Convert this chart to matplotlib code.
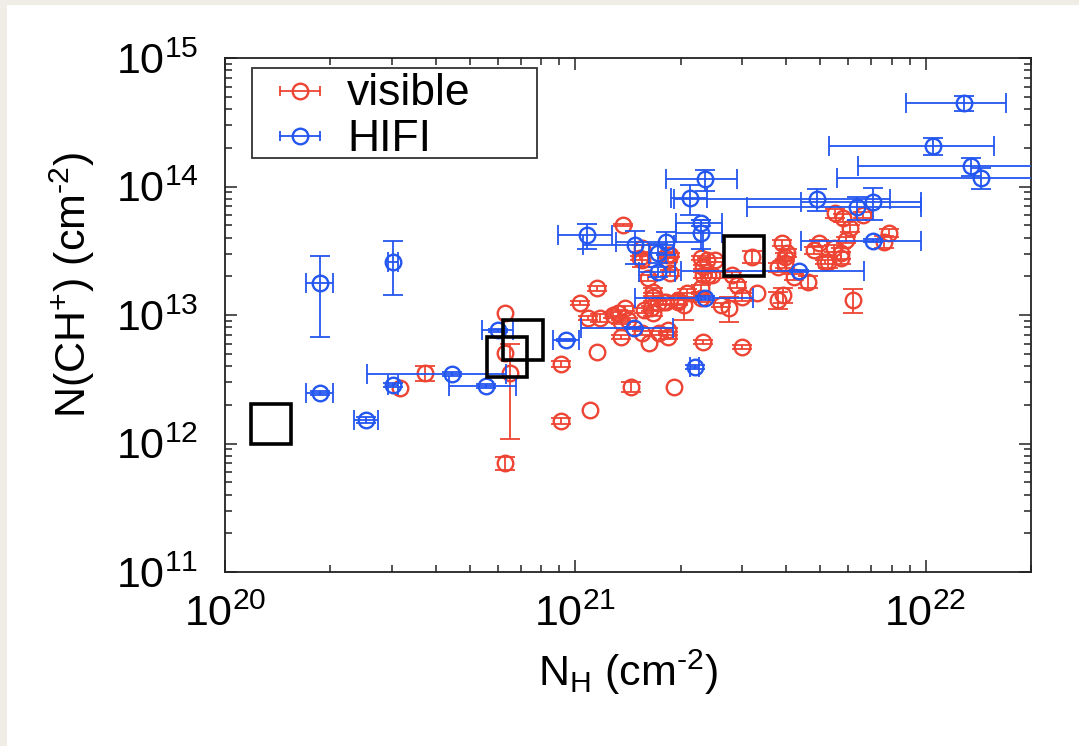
import numpy as np
import matplotlib
matplotlib.use('Agg')
import matplotlib.pyplot as plt
from matplotlib.patches import Rectangle
from matplotlib.ticker import NullFormatter, LogLocator

plt.rcParams['font.family'] = ['Liberation Sans', 'DejaVu Sans']
plt.rcParams['mathtext.fontset'] = 'custom'
plt.rcParams['mathtext.rm'] = 'Liberation Sans'
plt.rcParams['mathtext.it'] = 'Liberation Sans:italic'
plt.rcParams['mathtext.bf'] = 'Liberation Sans:bold'

RED = '#EE4433'
BLUE = '#2456F0'

# ---------------- data: visible (red) ----------------
vis_nh = [3.16e20, 3.73e20, 6.31e20, 6.31e20, 6.52e20, 6.31e20, 9.12e20, 9.12e20, 1.10e21, 1.15e21,
          1.03e21, 1.15e21, 1.09e21, 1.18e21, 1.32e21, 1.39e21, 1.35e21, 1.35e21, 1.41e21, 1.57e21,
          1.64e21, 1.72e21, 1.81e21, 1.96e21, 2.04e21, 1.67e21, 1.55e21, 1.62e21, 1.73e21, 1.84e21,
          1.84e21, 2.32e21, 3.00e21, 1.44e21, 1.91e21, 6.19e21, 2.74e21, 2.60e21, 3.00e21, 3.78e21,
          3.93e21, 1.37e21, 1.55e21, 1.55e21, 1.83e21, 1.84e21, 2.28e21, 2.51e21, 2.31e21, 2.40e21,
          2.81e21, 2.90e21, 3.20e21, 3.90e21, 4.03e21, 3.80e21, 3.98e21, 3.31e21, 4.63e21, 4.22e21,
          4.79e21, 4.95e21, 5.25e21, 5.46e21, 5.72e21, 5.72e21, 5.91e21, 7.84e21, 7.59e21, 2.09e21,
          2.28e21, 1.97e21, 1.78e21, 1.67e21, 1.28e21, 5.53e21, 5.83e21, 6.07e21, 6.61e21, 5.18e21,
          1.53e21, 1.87e21, 1.61e21, 1.87e21, 2.32e21, 1.67e21, 2.28e21, 2.38e21, 2.46e21, 3.98e21]
vis_nch = [2.70e12, 3.54e12, 1.04e13, 5.06e12, 3.54e12, 7.05e11, 4.16e12, 1.50e12, 1.82e12, 5.15e12,
           1.24e13, 1.62e13, 9.48e12, 9.48e12, 1.04e13, 1.13e13, 8.82e12, 6.74e12, 9.15e12, 1.09e13,
           1.13e13, 1.24e13, 1.26e13, 1.26e13, 1.20e13, 1.04e13, 7.24e12, 6.05e12, 7.24e12, 7.64e12,
           6.74e12, 6.16e12, 5.64e12, 2.75e12, 2.75e12, 1.31e13, 1.13e13, 1.20e13, 1.38e13, 1.31e13,
           1.43e13, 5.02e13, 3.32e13, 2.68e13, 2.93e13, 2.68e13, 2.78e13, 2.68e13, 2.05e13, 2.05e13,
           2.05e13, 1.71e13, 2.83e13, 3.63e13, 3.04e13, 2.36e13, 2.54e13, 1.48e13, 1.81e13, 1.98e13,
           3.20e13, 3.63e13, 2.59e13, 3.32e13, 3.04e13, 2.78e13, 3.84e13, 4.35e13, 3.70e13, 1.48e13,
           1.36e13, 1.31e13, 1.26e13, 1.38e13, 1.00e13, 6.22e13, 5.69e13, 4.75e13, 6.00e13, 2.59e13,
           2.78e13, 2.12e13, 1.94e13, 2.93e13, 2.36e13, 1.51e13, 1.62e13, 2.68e13, 2.05e13, 2.83e13]
vis_err = [0, 0.5e12, 0, 0, 2.45e12, 0.8e11, 0.2e12, 0.08e12, 0, 0,
           0.05e13, 0.07e13, 0.3e12, 0.7e12, 0.05e13, 0.05e13, 0.3e12, 0.2e12, 0.3e12, 0.05e13,
           0.05e13, 0.05e13, 0.06e13, 0.06e13, 0.28e13, 0.05e13, 0.3e12, 0, 0.3e12, 0.3e12,
           0.2e12, 0.2e12, 0.2e12, 0.25e12, 0, 0.28e13, 0.25e13, 0.05e13, 0.1e13, 0.2e13,
           0.2e13, 0.1e13, 0.2e13, 0.3e13, 0.15e13, 0.1e13, 0.1e13, 0.1e13, 0.1e13, 0.1e13,
           0.1e13, 0.1e13, 0.3e13, 0.2e13, 0.2e13, 0.2e13, 0.2e13, 0, 0.2e13, 0.1e13,
           0.2e13, 0.2e13, 0.25e13, 0.2e13, 0.3e13, 0.3e13, 0.2e13, 0.3e13, 0.4e13, 0.1e13,
           0.1e13, 0.1e13, 0.05e13, 0.1e13, 0.05e13, 0.5e13, 0.4e13, 0.3e13, 0.3e13, 0.1e13,
           0.1e13, 0.1e13, 0.1e13, 0.1e13, 0.1e13, 0.1e13, 0.1e13, 0.1e13, 0.1e13, 0.2e13]

# ---------------- data: HIFI (blue) ----------------
hifi_nh = [1.87e20, 3.02e20, 1.87e20, 2.53e20, 3.02e20, 4.45e20, 5.57e20, 6.03e20, 9.43e20, 1.08e21,
           1.48e21, 1.81e21, 1.72e21, 1.72e21, 2.28e21, 2.28e21, 2.35e21, 2.13e21, 2.35e21, 1.47e21,
           2.19e21, 4.34e21, 4.91e21, 6.39e21, 7.06e21, 7.06e21, 1.05e22, 1.29e22, 1.35e22, 1.44e22]
hifi_nch = [1.77e13, 2.59e13, 2.47e12, 1.52e12, 2.85e12, 3.47e12, 2.80e12, 7.64e12, 6.39e12, 4.19e13,
            3.51e13, 3.70e13, 3.04e13, 2.16e13, 5.20e13, 4.35e13, 1.14e14, 8.14e13, 1.36e13, 7.92e12,
            3.94e12, 2.20e13, 7.99e13, 6.93e13, 7.58e13, 3.77e13, 2.07e14, 4.47e14, 1.44e14, 1.17e14]
hifi_xerr = [0.17e20, 0.1e20, 0.17e20, 0.2e20, 0.1e20, 1.9e20, 1.2e20, 0.6e20, 0.8e20, 1.9e20,
             4.3e20, 5.0e20, 0.1e21, 0.2e21, 0.34e21, 0.34e21, 0.54e21, 0.25e21, 0.87e21, 0.43e21,
             0.06e21, 2.33e21, 3.0e21, 3.3e21, 2.64e21, 2.64e21, 5.2e21, 4.1e21, 7.1e21, 8.8e21]
hifi_yerr = [1.1e13, 1.15e13, 0.1e12, 0.08e12, 0.12e12, 0.1e12, 0.1e12, 0.2e12, 0.15e12, 0.95e13,
             1.0e13, 0.75e13, 0.5e13, 0.2e13, 0.3e13, 1.1e13, 0.21e14, 0.21e14, 0.05e13, 0.2e12,
             0.15e12, 0.05e13, 1.6e13, 1.4e13, 2.1e13, 0.1e13, 0.32e14, 0.63e14, 0.24e14, 0.22e14]

# ---------------- data: black squares ----------------
sq_nh = [1.35e20, 6.4e20, 7.1e20, 3.03e21]
sq_nch = [1.42e12, 4.7e12, 6.4e12, 2.88e13]

legend_labels = ['visible', 'HIFI']

# ---------------- figure ----------------
W, H = 1079, 746
fig = plt.figure(figsize=(W / 100, H / 100), dpi=100)
fig.patch.set_facecolor('#F0EDE6')
fig.add_artist(Rectangle((7 / W, 0), 1 - 7 / W, 1 - 5 / H, transform=fig.transFigure,
                         facecolor='white', edgecolor='none', zorder=-10))

ax = fig.add_axes([225 / W, (H - 572) / H, 806 / W, 514 / H])
ax.set_xscale('log')
ax.set_yscale('log')
ax.set_xlim(1e20, 2e22)
ax.set_ylim(1e11, 1e15)

lw = 1.3
ms = 11.2
mew = 1.7
cap = 7

vnh = np.array(vis_nh); vnc = np.array(vis_nch); verr = np.array(vis_err)
m = verr > 0
ax.errorbar(vnh[m], vnc[m], yerr=verr[m], fmt='none', ecolor=RED, elinewidth=lw,
            capsize=cap, capthick=lw, zorder=2)
ax.plot(vnh, vnc, 'o', ms=ms, mfc='none', mec=RED, mew=mew, zorder=3)

ax.errorbar(hifi_nh, hifi_nch, xerr=hifi_xerr, yerr=hifi_yerr, fmt='none', ecolor=BLUE,
            elinewidth=lw, capsize=cap, capthick=lw, zorder=4)
ax.plot(hifi_nh, hifi_nch, 'o', ms=ms, mfc='none', mec=BLUE, mew=mew, zorder=5)

ax.plot(sq_nh, sq_nch, 's', ms=28.8, mfc='none', mec='black', mew=2.6, zorder=6)

# ticks
ax.xaxis.set_major_locator(LogLocator(base=10, numticks=10))
ax.yaxis.set_major_locator(LogLocator(base=10, numticks=10))
ax.xaxis.set_minor_locator(LogLocator(base=10, subs=np.arange(2, 10), numticks=20))
ax.yaxis.set_minor_locator(LogLocator(base=10, subs=np.arange(2, 10), numticks=20))
ax.xaxis.set_minor_formatter(NullFormatter())
ax.yaxis.set_minor_formatter(NullFormatter())
ax.tick_params(which='both', direction='in', top=True, right=True, color='#222222')
ax.tick_params(which='major', length=8.6, width=1.1, labelsize=31)
ax.tick_params(which='minor', length=5, width=1.1)
ax.tick_params(axis='x', which='major', pad=16)
ax.tick_params(axis='y', which='major', pad=19)
for s in ax.spines.values():
    s.set_linewidth(1.3)
    s.set_color('#222222')

ax.set_xlabel('N$_{\\mathrm{H}}$ (cm$^{\u20102}$)', fontsize=31)
ax.xaxis.label.set_va('center')
ax.xaxis.set_label_coords(0.5, -0.195)
ax.set_ylabel('N(CH$^{+}$) (cm$^{\u20102}$)', fontsize=31)
ax.yaxis.label.set(va='center', ha='center', rotation_mode='default')
ax.yaxis.set_label_coords(-0.19, 0.558)

# legend (drawn by hand to match layout)
def axf(px, py):
    return (px - 225) / 806, 1 - (py - 58) / 514

x0, y0 = axf(252, 158)
x1, y1 = axf(537, 68)
ax.add_patch(Rectangle((x0, y0), x1 - x0, y1 - y0, transform=ax.transAxes,
                       facecolor='white', edgecolor='#333333', lw=1.3, zorder=10))
for lab, col, py, base in [(legend_labels[0], RED, 91, 105), (legend_labels[1], BLUE, 136, 151)]:
    xa, ya = axf(280, py)
    xb, _ = axf(320, py)
    xm, _ = axf(300, py)
    ax.plot([xa, xb], [ya, ya], color=col, lw=lw, transform=ax.transAxes, zorder=11, clip_on=False)
    ax.plot([xa, xb], [ya, ya], ls='none', marker='|', ms=cap, mew=lw, color=col,
            transform=ax.transAxes, zorder=11, clip_on=False)
    ax.plot([xm], [ya], 'o', ms=ms, mfc='none', mec=col, mew=mew,
            transform=ax.transAxes, zorder=12, clip_on=False)
    xt, yt = axf(347, base)
    ax.text(xt, yt, lab, transform=ax.transAxes, fontsize=32, va='baseline', ha='left', zorder=12)

fig.savefig('out.png', dpi=100, facecolor=fig.get_facecolor())
